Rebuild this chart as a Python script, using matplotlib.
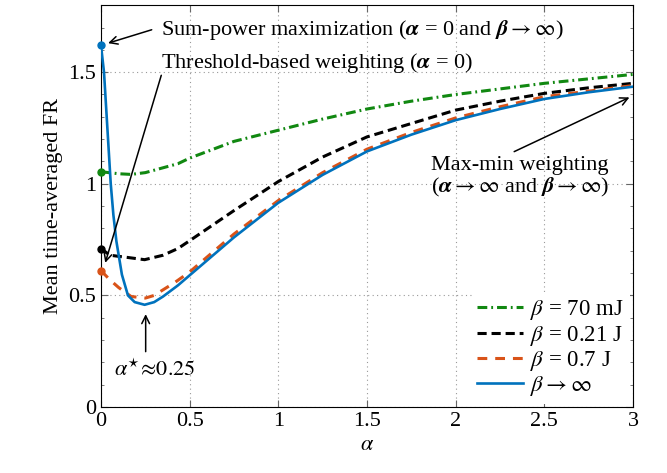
import matplotlib
matplotlib.use("Agg")
import matplotlib.pyplot as plt
import numpy as np
from matplotlib.ticker import MultipleLocator

plt.rcParams['font.family'] = ['Liberation Serif', 'DejaVu Serif']
plt.rcParams['mathtext.fontset'] = 'stix'

alpha_green = [0, 0.1, 0.17, 0.25, 0.434, 0.5, 0.75, 1.0, 1.25, 1.5, 1.75, 2.0, 2.25, 2.5, 2.75, 3.0]
fr_green = [1.054, 1.045, 1.042, 1.05, 1.09, 1.115, 1.19, 1.24, 1.29, 1.335, 1.37, 1.40, 1.425, 1.45, 1.47, 1.49]

alpha_black = [0, 0.05, 0.15, 0.246, 0.35, 0.434, 0.5, 0.75, 1.0, 1.25, 1.5, 1.75, 2.0, 2.25, 2.5, 2.75, 3.0]
fr_black = [0.71, 0.68, 0.67, 0.66, 0.68, 0.71, 0.745, 0.88, 1.01, 1.12, 1.21, 1.27, 1.33, 1.37, 1.405, 1.43, 1.45]

alpha_orange = [0, 0.05, 0.1, 0.17, 0.25, 0.3, 0.42, 0.5, 0.75, 1.0, 1.25, 1.5, 1.75, 2.0, 2.25, 2.5, 2.75, 3.0]
fr_orange = [0.611, 0.57, 0.535, 0.495, 0.488, 0.5, 0.56, 0.605, 0.775, 0.925, 1.05, 1.155, 1.23, 1.295, 1.345, 1.39, 1.415, 1.44]

alpha_blue = [0, 0.017, 0.036, 0.055, 0.07, 0.087, 0.118, 0.152, 0.19, 0.246, 0.3, 0.35, 0.434, 0.5, 0.75, 1.0, 1.25, 1.5, 1.75, 2.0, 2.25, 2.5, 2.75, 3.0]
fr_blue = [1.62, 1.5, 1.25, 1.0, 0.86, 0.742, 0.593, 0.5, 0.47, 0.458, 0.47, 0.495, 0.545, 0.59, 0.76, 0.915, 1.04, 1.145, 1.22, 1.285, 1.335, 1.38, 1.41, 1.435]

labels = [r'$\beta$ = 70 mJ', r'$\beta$ = 0.21 J', r'$\beta$ = 0.7 J', r'$\beta \rightarrow \infty$']

fig = plt.figure(figsize=(6.67, 4.73), dpi=100)
ax = fig.add_axes([0.1514, 0.1395, 0.7976, 0.8495])

series = [
    (alpha_green, fr_green, '#118811', (0, (3.2, 1.3, 0.6, 1.3)), 2.2),
    (alpha_black, fr_black, 'black', (0, (3.0, 1.6)), 2.2),
    (alpha_orange, fr_orange, '#d95319', (0, (3.2, 2.6)), 2.2),
    (alpha_blue, fr_blue, '#0072bd', '-', 1.9),
]
for (xs, ys, c, ls, lw), lab in zip(series, labels):
    ax.plot(xs, ys, color=c, ls=ls, lw=lw, label=lab, zorder=3)
    ax.plot(xs[0], ys[0], 'o', color=c, markersize=5, zorder=4, clip_on=False)

ax.set_xlim(0, 3)
ax.set_ylim(0, 1.8)
ax.set_xticks(np.arange(0, 3.01, 0.5))
ax.set_xticklabels(['0', '0.5', '1', '1.5', '2', '2.5', '3'])
ax.set_yticks([0, 0.5, 1, 1.5])
ax.set_yticklabels(['0', '0.5', '1', '1.5'])
ax.yaxis.set_minor_locator(MultipleLocator(0.1))
ax.tick_params(which='both', direction='in', top=True, right=True, labelsize=16, color='#666666')
ax.tick_params(which='major', length=5)
ax.tick_params(which='minor', length=2.5, top=False, bottom=False)
ax.grid(True, which='major', ls=(0, (1, 3)), color='#999999', lw=0.8)
ax.set_axisbelow(True)

ax.set_xlabel(r'$\alpha$', fontsize=16)
ax.set_ylabel('Mean time-averaged FR', fontsize=16)

arr = dict(arrowstyle='->', color='black', lw=1.1, shrinkA=0, shrinkB=0, mutation_scale=14)

# annotation texts
ax.text(0.338, 1.69, r'Sum-power maximization ($\boldsymbol{\alpha}$ = 0 and $\boldsymbol{\beta} \rightarrow \infty$)',
        fontsize=16, va='center', ha='left')
ax.text(0.338, 1.54, r'Threshold-based weighting ($\boldsymbol{\alpha}$ = 0)',
        fontsize=16, va='center', ha='left')
ax.text(0.305, 0.167, r'$\alpha^{\star}\!\approx\!0.25$', fontsize=16, ha='center', va='center')
ax.text(2.363, 1.03, 'Max-min weighting\n' + r'($\boldsymbol{\alpha} \rightarrow \infty$ and $\boldsymbol{\beta} \rightarrow \infty$)',
        fontsize=16, ha='center', va='center', linespacing=1.05)

# arrows
ax.annotate('', xy=(0.04, 1.63), xytext=(0.286, 1.69), arrowprops=arr)
ax.annotate('', xy=(0.024, 0.646), xytext=(0.34, 1.486), arrowprops=arr)
ax.annotate('', xy=(0.252, 0.416), xytext=(0.252, 0.248), arrowprops=arr)
ax.annotate('', xy=(2.98, 1.387), xytext=(2.33, 1.144), arrowprops=arr)

ax.legend(loc='lower right', fontsize=16.5, frameon=True, framealpha=1, edgecolor='none',
          handlelength=2.0, handletextpad=0.3, labelspacing=0.05, borderpad=0.25,
          borderaxespad=0.15, fancybox=False)

fig.savefig('out.png', dpi=100)
